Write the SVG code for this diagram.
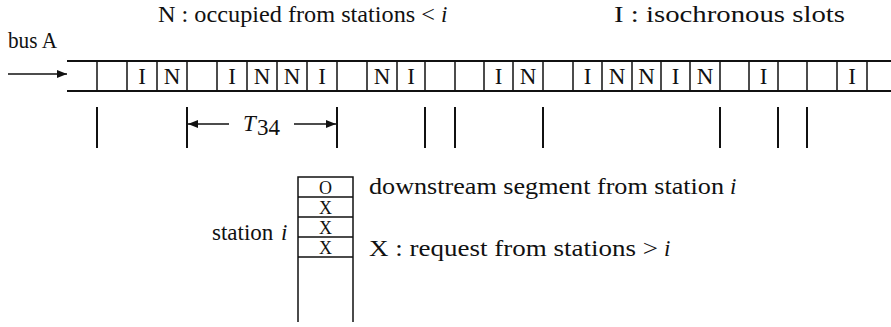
<svg xmlns="http://www.w3.org/2000/svg" width="891" height="327" viewBox="0 0 891 327">
  <defs>
    <marker id="head" viewBox="0 0 10 8" refX="10" refY="4" markerWidth="10" markerHeight="8" markerUnits="userSpaceOnUse" orient="auto">
      <path d="M0,0 L10,4 L0,8 Z" fill="#111"/>
    </marker>
  </defs>
  <style>
    text { font-family: "Liberation Serif", "Times New Roman", serif; font-size: 23px; fill: #111; }
    .slot { text-anchor: middle; font-size: 23px; }
    .cell { text-anchor: middle; font-size: 18px; }
    .it { font-style: italic; }
    .rail { stroke: #111; stroke-width: 2.2; fill: none; }
    .div { stroke: #111; stroke-width: 1.5; fill: none; }
    .tick { stroke: #111; stroke-width: 2; fill: none; }
    .arrow { stroke: #111; stroke-width: 1.6; fill: none; marker-end: url(#head); }
  </style>
  <rect width="891" height="327" fill="#fff"/>

  <!-- legend -->
  <g id="legend">
    <text x="158" y="22" textLength="277" lengthAdjust="spacingAndGlyphs">N : occupied from stations &lt;</text>
    <text class="it" x="441" y="22">i</text>
    <text x="614" y="22" textLength="231" lengthAdjust="spacingAndGlyphs">I : isochronous slots</text>
  </g>

  <!-- bus A with its slots -->
  <g id="bus">
    <text x="8" y="48" textLength="49" lengthAdjust="spacingAndGlyphs">bus A</text>
    <line class="rail" x1="67" y1="61" x2="891" y2="61"/>
    <line class="rail" x1="67" y1="91" x2="891" y2="91"/>
    <g class="div">
      <line x1="97" y1="61" x2="97" y2="91"/>
      <line x1="127" y1="61" x2="127" y2="91"/>
      <line x1="157" y1="61" x2="157" y2="91"/>
      <line x1="187" y1="61" x2="187" y2="91"/>
      <line x1="217" y1="61" x2="217" y2="91"/>
      <line x1="247" y1="61" x2="247" y2="91"/>
      <line x1="277" y1="61" x2="277" y2="91"/>
      <line x1="307" y1="61" x2="307" y2="91"/>
      <line x1="337" y1="61" x2="337" y2="91"/>
      <line x1="367" y1="61" x2="367" y2="91"/>
      <line x1="397" y1="61" x2="397" y2="91"/>
      <line x1="425" y1="61" x2="425" y2="91"/>
      <line x1="455" y1="61" x2="455" y2="91"/>
      <line x1="484" y1="61" x2="484" y2="91"/>
      <line x1="513" y1="61" x2="513" y2="91"/>
      <line x1="543" y1="61" x2="543" y2="91"/>
      <line x1="573" y1="61" x2="573" y2="91"/>
      <line x1="602" y1="61" x2="602" y2="91"/>
      <line x1="632" y1="61" x2="632" y2="91"/>
      <line x1="661" y1="61" x2="661" y2="91"/>
      <line x1="690" y1="61" x2="690" y2="91"/>
      <line x1="720" y1="61" x2="720" y2="91"/>
      <line x1="749" y1="61" x2="749" y2="91"/>
      <line x1="778" y1="61" x2="778" y2="91"/>
      <line x1="807" y1="61" x2="807" y2="91"/>
      <line x1="837" y1="61" x2="837" y2="91"/>
      <line x1="867" y1="61" x2="867" y2="91"/>
    </g>
    <g>
      <text class="slot" x="142" y="84">I</text>
      <text class="slot" x="172" y="84">N</text>
      <text class="slot" x="232" y="84">I</text>
      <text class="slot" x="262" y="84">N</text>
      <text class="slot" x="292" y="84">N</text>
      <text class="slot" x="322" y="84">I</text>
      <text class="slot" x="382" y="84">N</text>
      <text class="slot" x="411" y="84">I</text>
      <text class="slot" x="498.5" y="84">I</text>
      <text class="slot" x="528" y="84">N</text>
      <text class="slot" x="587.5" y="84">I</text>
      <text class="slot" x="617" y="84">N</text>
      <text class="slot" x="646.5" y="84">N</text>
      <text class="slot" x="675.5" y="84">I</text>
      <text class="slot" x="705" y="84">N</text>
      <text class="slot" x="763.5" y="84">I</text>
      <text class="slot" x="852" y="84">I</text>
    </g>
  </g>

  <!-- station i queue -->
  <g id="station">
    <text x="212" y="240" font-size="21">station</text>
    <text class="it" x="281" y="240" font-size="21">i</text>
    <path class="div" d="M298,322 V177 H353 V322 M298,197 H353 M298,217 H353 M298,237 H353 M298,257 H353"/>
    <text class="cell" x="325.5" y="193.5">O</text>
    <text class="cell" x="325.5" y="213.5">X</text>
    <text class="cell" x="325.5" y="233.5">X</text>
    <text class="cell" x="325.5" y="253.5">X</text>
    <text x="369" y="194" textLength="355" lengthAdjust="spacingAndGlyphs">downstream segment from station</text>
    <text class="it" x="730" y="194">i</text>
    <text x="369" y="256" textLength="289" lengthAdjust="spacingAndGlyphs">X : request from stations &gt;</text>
    <text class="it" x="664" y="256">i</text>
  </g>

  <!-- connectors: bus arrow, slot ticks and the T34 span -->
  <g id="connectors">
    <line class="arrow" x1="8" y1="74" x2="67" y2="74"/>
    <g class="tick">
      <line x1="97" y1="107" x2="97" y2="148"/>
      <line x1="187" y1="107" x2="187" y2="148"/>
      <line x1="337" y1="107" x2="337" y2="148"/>
      <line x1="425" y1="107" x2="425" y2="148"/>
      <line x1="455" y1="107" x2="455" y2="148"/>
      <line x1="543" y1="107" x2="543" y2="148"/>
      <line x1="720" y1="107" x2="720" y2="148"/>
      <line x1="778" y1="107" x2="778" y2="148"/>
      <line x1="807" y1="107" x2="807" y2="148"/>
    </g>
    <line class="arrow" x1="229" y1="124" x2="188" y2="124"/>
    <line class="arrow" x1="294" y1="124" x2="336" y2="124"/>
    <text class="it" x="243" y="131">T</text>
    <text x="257" y="135" font-size="14">34</text>
  </g>
</svg>
